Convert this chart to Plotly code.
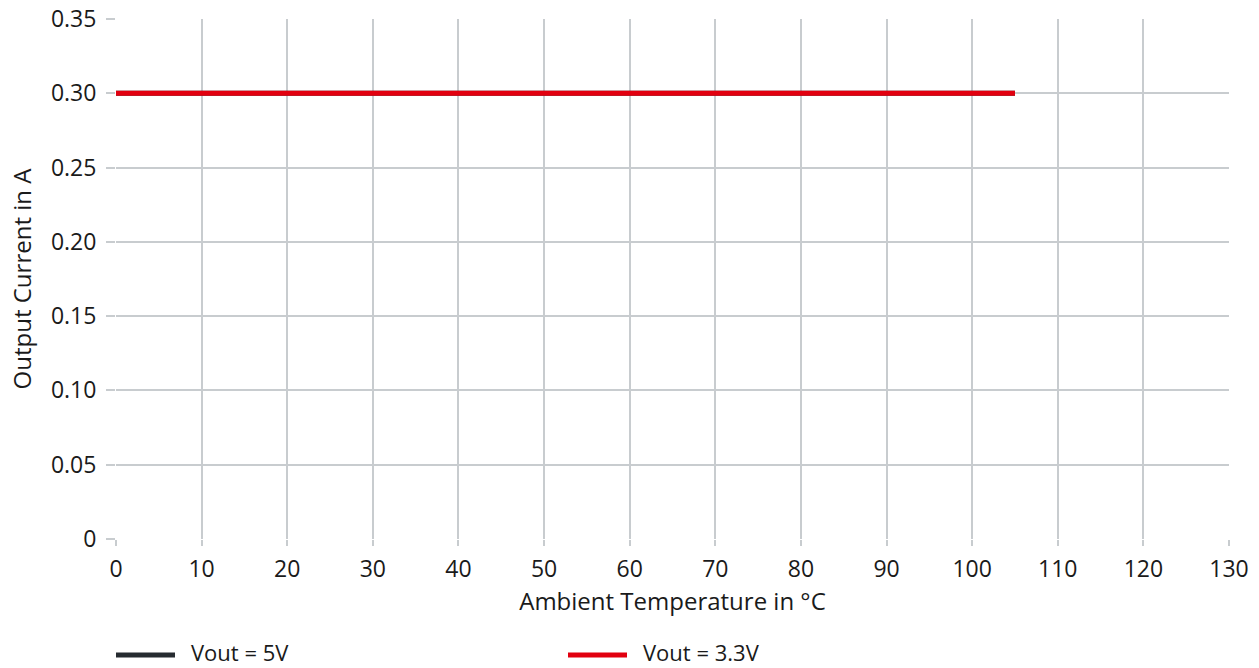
import plotly.graph_objects as go

temp_5v = [0, 105]
current_5v = [0.30, 0.30]
temp_33v = [0, 105]
current_33v = [0.30, 0.30]
series_names = ["Vout = 5V", "Vout = 3.3V"]
series_colors = ["#262b30", "#e2000f"]
x_ticks = list(range(0, 131, 10))
y_ticks = [0, 0.05, 0.10, 0.15, 0.20, 0.25, 0.30, 0.35]
y_tick_labels = ["0", "0.05", "0.10", "0.15", "0.20", "0.25", "0.30", "0.35"]

grid = "#c8cccf"
font = "Open Sans"

fig = go.Figure()
fig.add_trace(go.Scatter(x=temp_5v, y=current_5v, mode="lines", name=series_names[0],
                         line=dict(color=series_colors[0], width=5), showlegend=False))
fig.add_trace(go.Scatter(x=temp_33v, y=current_33v, mode="lines", name=series_names[1],
                         line=dict(color=series_colors[1], width=5), showlegend=False))

# manual legend below the plot (paper coordinates)
plot_w = 1259 - 116 - 30
plot_h = 668 - 19 - 129
line_y = -(655 - 539) / plot_h
text_y = -(652 - 539) / plot_h
for i, (name, col) in enumerate(zip(series_names, series_colors)):
    x0 = (i * 452) / plot_w
    x1 = (i * 452 + 59) / plot_w
    fig.add_shape(type="line", xref="paper", yref="paper", x0=x0, x1=x1,
                  y0=line_y, y1=line_y, line=dict(color=col, width=5))
    fig.add_annotation(xref="paper", yref="paper", x=(i * 452 + 74) / plot_w, y=text_y,
                       text=name, showarrow=False, xanchor="left", yanchor="middle",
                       borderpad=0, font=dict(size=22, color="#1a1a1a"))

fig.update_layout(
    width=1259, height=668,
    margin=dict(l=116, r=30, t=19, b=129),
    paper_bgcolor="white", plot_bgcolor="white",
    font=dict(family=font, size=20, color="#1a1a1a"),
    showlegend=False,
    xaxis=dict(range=[0, 130], tickvals=x_ticks, showgrid=True, gridcolor=grid, gridwidth=2,
               zeroline=False, showline=False, ticks="outside", ticklen=6, tickcolor=grid,
               tickwidth=2, ticklabelstandoff=3, automargin=False,
               title=dict(text="Ambient Temperature in °C", standoff=10),
               tickfont=dict(size=23)),
    yaxis=dict(range=[0, 0.35], tickvals=y_ticks, ticktext=y_tick_labels, showgrid=True,
               gridcolor=grid, gridwidth=2, zeroline=False, showline=False,
               ticks="outside", ticklen=9, tickcolor=grid, tickwidth=2,
               ticklabelstandoff=5, automargin=False,
               title=dict(text="Output Current in A", standoff=12),
               tickfont=dict(size=23)),
)

fig.write_html("out.html")
